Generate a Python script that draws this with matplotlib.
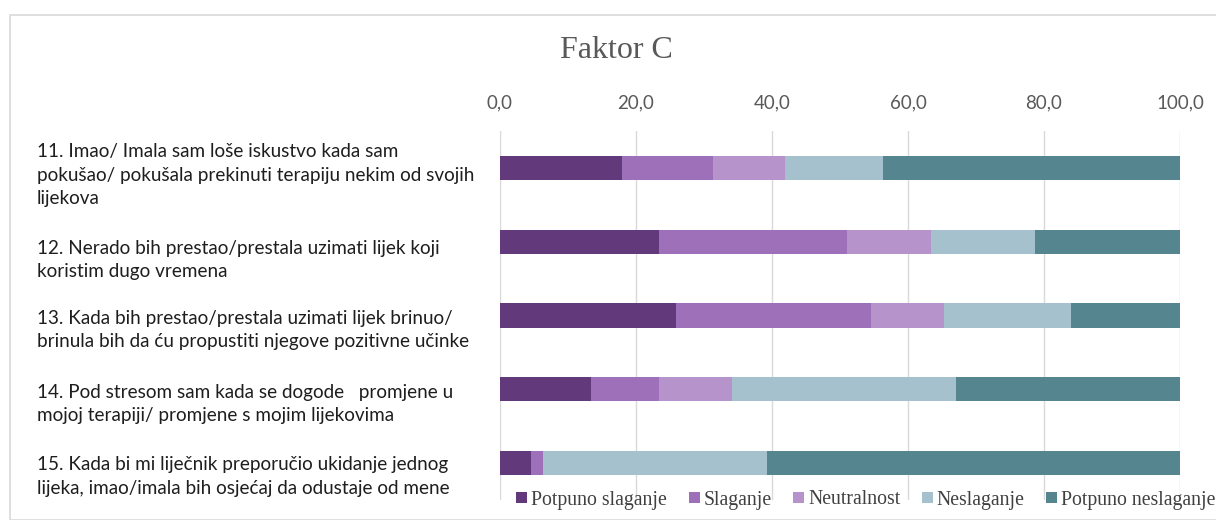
import numpy as np
import matplotlib.pyplot as plt
import matplotlib.transforms as mtransforms
from matplotlib.patches import Rectangle

# data (percent)
questions = [
    "11. Imao/ Imala sam loše iskustvo kada sam\npokušao/ pokušala prekinuti terapiju nekim od svojih\nlijekova",
    "12. Nerado bih prestao/prestala uzimati lijek koji\nkoristim dugo vremena",
    "13. Kada bih prestao/prestala uzimati lijek brinuo/\nbrinula bih da ću propustiti njegove pozitivne učinke",
    "14. Pod stresom sam kada se dogode   promjene u\nmojoj terapiji/ promjene s mojim lijekovima",
    "15. Kada bi mi liječnik preporučio ukidanje jednog\nlijeka, imao/imala bih osjećaj da odustaje od mene",
]
categories = ["Potpuno slaganje", "Slaganje", "Neutralnost", "Neslaganje", "Potpuno neslaganje"]
potpuno_slaganje = [17.9, 23.4, 25.9, 13.4, 4.5]
slaganje = [13.4, 27.6, 28.6, 10.0, 1.8]
neutralnost = [10.6, 12.4, 10.8, 10.7, 0.0]
neslaganje = [14.4, 15.3, 18.7, 32.9, 33.0]
potpuno_neslaganje = [43.7, 21.3, 16.0, 33.0, 60.7]
xticks = [0, 20, 40, 60, 80, 100]

colors = ["#62397a", "#9e70ba", "#b793cc", "#a6c1ce", "#558690"]
series = [potpuno_slaganje, slaganje, neutralnost, neslaganje, potpuno_neslaganje]

fig = plt.figure(figsize=(12.16, 5.2), dpi=100)
fig.patches.append(Rectangle((10/1216, 0), 1.0, 1 - 15/520, transform=fig.transFigure,
                             fill=False, edgecolor="#d9d9d9", linewidth=1.2))

ax = fig.add_axes([500/1216, 20/520, 680/1216, 369/520])
y = np.arange(len(questions))
left = np.zeros(len(questions))
for vals, col, name in zip(series, colors, categories):
    ax.barh(y, vals, left=left, height=0.33, color=col, label=name, zorder=3)
    left += np.array(vals)

ax.set_xlim(0, 100)
ax.set_ylim(len(questions) - 0.5, -0.5)
ax.xaxis.tick_top()
ax.set_xticks(xticks)
ax.set_xticklabels([f"{v:.1f}".replace(".", ",") for v in xticks],
                   fontsize=13.5, color="#595959", family="Lato")
ax.tick_params(axis="x", length=0, pad=14)
ax.set_yticks([])
for s in ax.spines.values():
    s.set_visible(False)
ax.grid(axis="x", color="#d9d9d9", linewidth=1, zorder=0)

# question labels sit a bit below the bar centres, as in the original
blend = mtransforms.blended_transform_factory(fig.transFigure, ax.transData)
shift = [0.1, 0.25, 0.2, 0.2, 0.18]
for i, q in enumerate(questions):
    ax.text(37/1216, i + shift[i], q, transform=blend, ha="left", va="center",
            fontsize=13.6, family="Lato", color="#1e1e1e", linespacing=1.45)

fig.text(616/1216, 1 - 50/520, "Faktor C", ha="center", va="center",
         fontsize=23, family="Liberation Serif", color="#595959")

fig.legend(loc="center", bbox_to_anchor=(866/1216, 1 - 500/520), ncol=5, frameon=False,
           prop={"family": "Liberation Serif", "size": 14.2}, handlelength=0.55,
           handleheight=0.55, handletextpad=0.2, columnspacing=1.1, labelcolor="#404040")

fig.savefig("out.png", dpi=100)
